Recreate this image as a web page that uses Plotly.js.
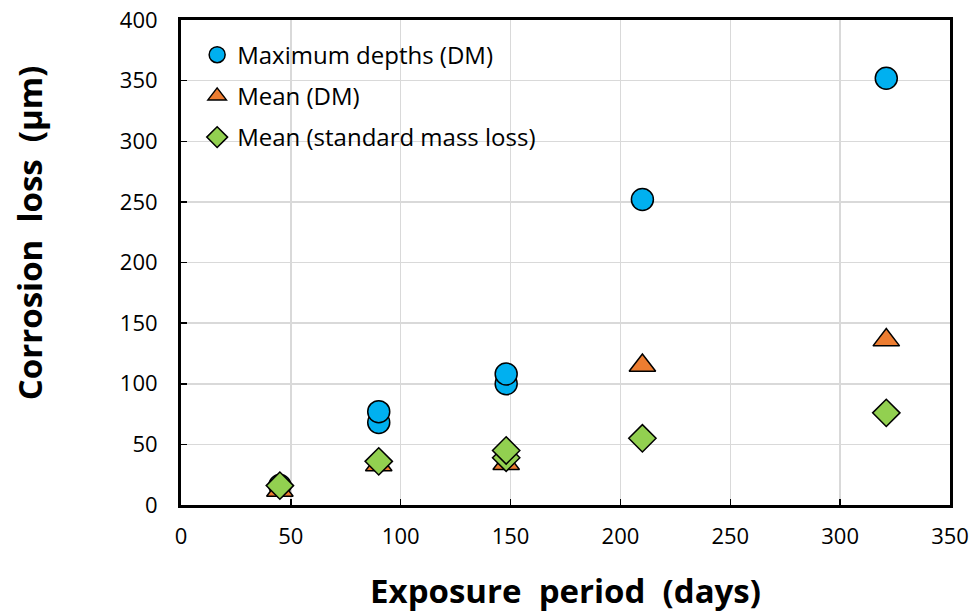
<!DOCTYPE html>
<html><head><meta charset="utf-8">
<script src="https://cdn.plot.ly/plotly-3.0.1.min.js"></script>
<style>body{margin:0;background:#fff}</style></head>
<body><div id="chart" style="width:976px;height:613px"></div>
<script>
const maxDays = [45, 90, 90, 148, 148, 210, 321];
const maxDepth = [16, 68, 77, 100, 108, 252, 352];
const meanDays = [45, 90, 148, 210, 321];
const meanDM = [12, 33, 34, 115, 136];
const massDays = [45, 90, 148, 148, 210, 321];
const massLoss = [16, 36, 39, 45, 55, 76];
const xTicks = [0, 50, 100, 150, 200, 250, 300, 350];
const yTicks = [0, 50, 100, 150, 200, 250, 300, 350, 400];

const line = {color: '#000', width: 1.5};
const traces = [
  {x: maxDays, y: maxDepth, mode: 'markers', type: 'scatter', name: 'Maximum depths (DM)', legendgroup: 'a',
   marker: {symbol: 'circle', size: 22, color: '#00B0F0', line: line}},
  {x: meanDays, y: meanDM, mode: 'markers', type: 'scatter', name: 'Mean (DM)', legendgroup: 'b',
   marker: {symbol: 'triangle-up', size: 23, color: '#ED7D31', line: line}},
  {x: massDays, y: massLoss, mode: 'markers', type: 'scatter', name: 'Mean (standard mass loss)', legendgroup: 'c',
   marker: {symbol: 'diamond', size: 21, color: '#92D050', line: line}}
];
const font = "Open Sans, Liberation Sans, sans-serif";
const layout = {
  width: 976, height: 613,
  margin: {l: 181, r: 26, t: 20, b: 108},
  paper_bgcolor: '#fff', plot_bgcolor: '#fff',
  font: {family: font, color: '#000', size: 22},
  showlegend: true,
  legend: {x: 0.021, y: 0.974, xanchor: 'left', yanchor: 'top', bgcolor: 'rgba(255,255,255,0)',
    font: {size: 24, family: font}, itemsizing: 'trace', tracegroupgap: 7},
  xaxis: {range: [0, 350], tickvals: xTicks, ticktext: xTicks.map(String),
    showgrid: true, gridcolor: '#d9d9d9', gridwidth: 1.5,
    showline: true, linecolor: '#000', linewidth: 3, mirror: true,
    ticks: 'inside', ticklen: 6, tickcolor: '#000', tickwidth: 1.5, zeroline: false,
    tickfont: {size: 22}, ticklabelstandoff: 10,
    title: {text: '<b>Exposure  period  (days)</b>', font: {size: 33}, standoff: 33}},
  yaxis: {range: [0, 400], tickvals: yTicks, ticktext: yTicks.map(String),
    showgrid: true, gridcolor: '#d9d9d9', gridwidth: 1.5,
    showline: true, linecolor: '#000', linewidth: 3, mirror: true,
    ticks: 'inside', ticklen: 6, tickcolor: '#000', tickwidth: 1.5, zeroline: false,
    tickfont: {size: 22}, ticklabelstandoff: 16},
  annotations: [{text: '<b>Corrosion  loss  (μm)</b>', textangle: -90, showarrow: false,
    xref: 'paper', yref: 'paper', x: -0.196, y: 0.561, xanchor: 'center', yanchor: 'middle',
    font: {size: 33, family: font, color: '#000'}}]
};
Plotly.newPlot('chart', traces, layout, {displayModeBar: false, staticPlot: true});
</script></body></html>
